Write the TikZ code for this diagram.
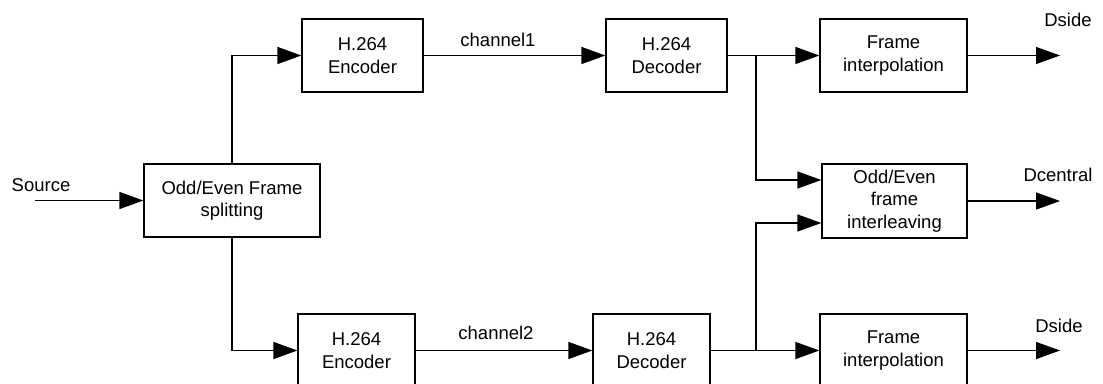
\documentclass[tikz,border=0pt]{standalone}
\usepackage{fontspec}
\setmainfont{Liberation Sans}
\usetikzlibrary{arrows.meta}
\begin{document}
\begin{tikzpicture}[x=1pt,y=-1pt,
  txt/.style={font=\fontsize{18.5}{22.5}\selectfont},
  blk/.style 2 args={draw, line width=1.3pt, align=center, txt, inner sep=0pt,
    minimum width=#1pt, minimum height=#2pt},
  flow/.style={line width=1.4pt, -{Triangle[length=24pt,width=17pt]}},
  lbl/.style={txt, inner sep=0pt}]
  \clip (0,0) rectangle (1103,383);

  % processing blocks
  \node[blk={176}{73}] (split) at (232,200.5) {Odd/Even Frame\\splitting};
  \node[blk={121}{73}] (enc1) at (362.5,55.5) {H.264\\Encoder};
  \node[blk={121}{73}] (dec1) at (666.5,55.5) {H.264\\Decoder};
  \node[blk={117}{73}] (enc2) at (356.5,350.5) {H.264\\Encoder};
  \node[blk={117}{73}] (dec2) at (651.5,350.5) {H.264\\Decoder};
  \node[blk={147}{73}] (fi1) at (893.5,55.5) {Frame\\interpolation};
  \node[blk={145}{74}] (il) at (894.5,201) {Odd/Even\\frame\\interleaving};
  \node[blk={147}{73}] (fi2) at (893.5,350.5) {Frame\\interpolation};

  % free ends and branch points
  \coordinate (src) at (35,200.5);
  \coordinate (b1) at (756,55.5);
  \coordinate (b2) at (756,350.5);
  \coordinate (o1) at (1060,55.5);
  \coordinate (o2) at (1060,201);
  \coordinate (o3) at (1060,350.5);

  % labels
  \node[lbl] (lsrc) at (41,185) {Source};
  \node[lbl] (lch1) at (498,40) {channel1};
  \node[lbl] (lch2) at (496,333) {channel2};
  \node[lbl] (lo1) at (1068,20) {Dside};
  \node[lbl] (lo2) at (1058,175) {Dcentral};
  \node[lbl] (lo3) at (1059,326) {Dside};

  % connectors
  \draw[flow] (src) -- (split.west);
  \draw[flow] (split.north) |- (enc1.west);
  \draw[flow] (split.south) |- (enc2.west);
  \draw[flow] (enc1.east) -- (dec1.west);
  \draw[flow] (enc2.east) -- (dec2.west);
  \draw[flow] (dec1.east) -- (fi1.west);
  \draw[flow] (dec2.east) -- (fi2.west);
  \draw[flow] (b1) |- ([yshift=21pt]il.west);
  \draw[flow] (b2) |- ([yshift=-22pt]il.west);
  \draw[flow] (fi1.east) -- (o1);
  \draw[flow] (il.east) -- (o2);
  \draw[flow] (fi2.east) -- (o3);
\end{tikzpicture}
\end{document}
